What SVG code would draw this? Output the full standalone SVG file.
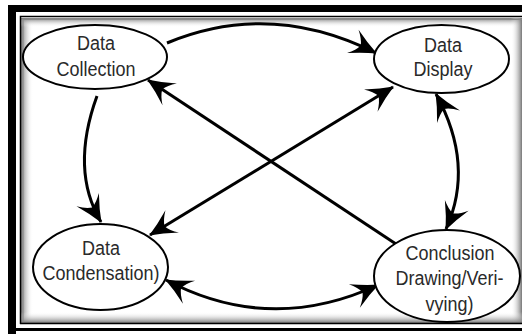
<svg xmlns="http://www.w3.org/2000/svg" width="522" height="334" viewBox="0 0 522 334">
<defs>
<style>
.node ellipse{fill:#fff;stroke:#000;stroke-width:2}
.node text{font-family:"Liberation Sans",Arial,sans-serif;font-size:18px;fill:#2a2a2a;text-anchor:middle}
.conn path{fill:none;stroke:#000;stroke-width:3}
</style>
<linearGradient id="gl" x1="0" y1="0" x2="1" y2="0"><stop offset="0" stop-color="#777"/><stop offset="1" stop-color="#fff" stop-opacity="0"/></linearGradient>
<linearGradient id="gr" x1="1" y1="0" x2="0" y2="0"><stop offset="0" stop-color="#777"/><stop offset="1" stop-color="#fff" stop-opacity="0"/></linearGradient>
<linearGradient id="gt" x1="0" y1="0" x2="0" y2="1"><stop offset="0" stop-color="#777"/><stop offset="1" stop-color="#fff" stop-opacity="0"/></linearGradient>
<linearGradient id="gb" x1="0" y1="1" x2="0" y2="0"><stop offset="0" stop-color="#777"/><stop offset="1" stop-color="#fff" stop-opacity="0"/></linearGradient>
<marker id="ah" markerUnits="userSpaceOnUse" viewBox="-28 -15 30 30" refX="0" refY="0" markerWidth="30" markerHeight="30" orient="auto-start-reverse">
<path d="M1,0 Q-12,-5 -26,-13 Q-19,-6 -17,0 Q-19,6 -26,13 Q-12,5 1,0 Z" fill="#000"/>
</marker>
</defs>
<rect width="522" height="334" fill="#fff"/>
<g id="frame">
<rect x="21" y="18" width="12" height="305" fill="url(#gl)"/>
<rect x="21" y="18" width="501" height="9" fill="url(#gt)"/>
<rect x="511" y="18" width="11" height="305" fill="url(#gr)"/>
<rect x="21" y="312" width="501" height="11" fill="url(#gb)"/>
<rect x="8" y="5" width="8" height="329" fill="#000"/>
<rect x="8" y="5" width="514" height="7" fill="#000"/>
<rect x="8" y="328" width="514" height="3" fill="#000"/>
<path d="M20.5,324 V16.5 H530" fill="none" stroke="#000" stroke-width="1.5"/>
<path d="M20,323.5 H530" fill="none" stroke="#000" stroke-width="1.5"/>
<path d="M23,322 V19.5 H530" fill="none" stroke="#888" stroke-width="1"/>
</g>
<g id="connectors" class="conn">
<path d="M167,43 Q270,0 376,53" marker-end="url(#ah)"/>
<path d="M97,96 Q70,170 101,222" marker-end="url(#ah)"/>
<path d="M436,94 Q475,165 446,229" marker-start="url(#ah)" marker-end="url(#ah)"/>
<path d="M166,280 Q270,335 378,285" marker-start="url(#ah)" marker-end="url(#ah)"/>
<path d="M396,244 L148,80" marker-end="url(#ah)"/>
<path d="M150,235 L393,87" marker-start="url(#ah)" marker-end="url(#ah)"/>
</g>
<g id="data-collection" class="node">
<ellipse cx="95" cy="57" rx="72" ry="32"/>
<text x="96" y="50" transform="matrix(1,0,0,1.12,0,-6)">Data</text>
<text x="96" y="76" transform="matrix(1,0,0,1.12,0,-9.12)">Collection</text>
</g>
<g id="data-display" class="node">
<ellipse cx="441.5" cy="59" rx="67.5" ry="34"/>
<text x="443" y="52" transform="matrix(1,0,0,1.12,0,-6.24)">Data</text>
<text x="443" y="76" transform="matrix(1,0,0,1.12,0,-9.12)">Display</text>
</g>
<g id="data-condensation" class="node">
<ellipse cx="100.5" cy="267" rx="67.5" ry="43"/>
<text x="101" y="255" transform="matrix(1,0,0,1.12,0,-30.6)">Data</text>
<text x="101" y="280" transform="matrix(1,0,0,1.12,0,-33.6)">Condensation)</text>
</g>
<g id="conclusion" class="node">
<ellipse cx="447" cy="276" rx="73" ry="46"/>
<text x="450" y="260" transform="matrix(1,0,0,1.12,0,-31.2)">Conclusion</text>
<text x="449.5" y="285" transform="matrix(1,0,0,1.12,0,-34.2)">Drawing/Veri-</text>
<text x="449.5" y="311" transform="matrix(1,0,0,1.12,0,-37.32)">vying)</text>
</g>
</svg>
